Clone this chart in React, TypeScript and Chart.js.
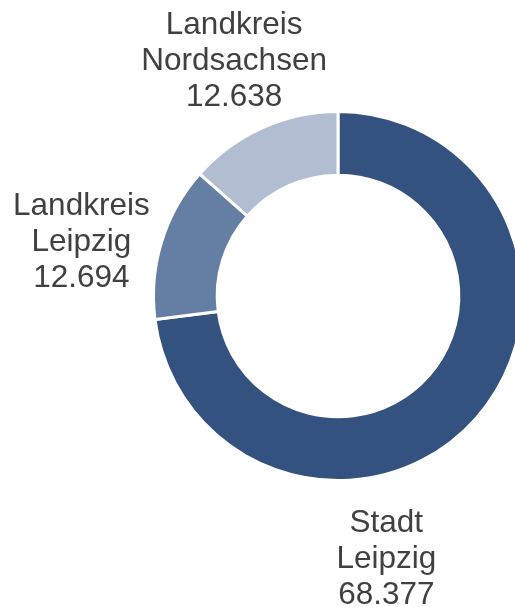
import React, { useEffect, useRef } from "react";
import { Chart, registerables } from "chart.js";

Chart.register(...registerables);

const categories = ["Stadt Leipzig", "Landkreis Leipzig", "Landkreis Nordsachsen"];
const labelLines = [["Stadt", "Leipzig"], ["Landkreis", "Leipzig"], ["Landkreis", "Nordsachsen"]];
const values = [68377, 12694, 12638];
const valueLabels = ["68.377", "12.694", "12.638"];
const colors = ["#33527f", "#657ea3", "#b1bed2"];

// label anchor offsets relative to chart center, in units of outer radius
const labelOffsets = [
  [0.262, 1.475],
  [-1.391, -0.246],
  [-0.563, -1.224],
];

const labelPlugin = {
  id: "outsideLabels",
  afterDraw(chart: any) {
    const ctx = chart.ctx;
    const meta = chart.getDatasetMeta(0);
    ctx.save();
    ctx.font = '31.5px "Liberation Sans", Arial, sans-serif';
    ctx.fillStyle = "#404040";
    ctx.textAlign = "center";
    ctx.textBaseline = "alphabetic";
    meta.data.forEach((arc: any, i: number) => {
      const { x, y, outerRadius } = arc.getProps(["x", "y", "outerRadius"], true);
      const cx = x + labelOffsets[i][0] * outerRadius;
      const cy = y + labelOffsets[i][1] * outerRadius;
      const lines = [...labelLines[i], valueLabels[i]];
      const lh = 36;
      lines.forEach((t, k) => {
        ctx.fillText(t, cx, cy + (k - 1) * lh);
      });
    });
    ctx.restore();
  },
};

export default function App() {
  const ref = useRef<HTMLCanvasElement>(null);
  useEffect(() => {
    if (!ref.current) return;
    const chart = new Chart(ref.current, {
      type: "doughnut",
      data: {
        labels: categories,
        datasets: [
          {
            data: values,
            backgroundColor: colors,
            borderColor: "#ffffff",
            borderWidth: 3,
          },
        ],
      },
      options: {
        responsive: false,
        animation: false,
        cutout: "65.5%",
        layout: { padding: { left: 152, top: 110, right: 76, bottom: 125 } },
        plugins: {
          legend: { display: false },
          tooltip: { enabled: false },
        },
      },
      plugins: [labelPlugin],
    });
    return () => chart.destroy();
  }, []);
  return (
    <div
      style={{
        position: "fixed",
        left: 0,
        top: 0,
        width: 515,
        height: 607,
        overflow: "hidden",
        background: "#fff",
      }}
    >
      <canvas ref={ref} width={600} height={607} style={{ display: "block" }} />
    </div>
  );
}
